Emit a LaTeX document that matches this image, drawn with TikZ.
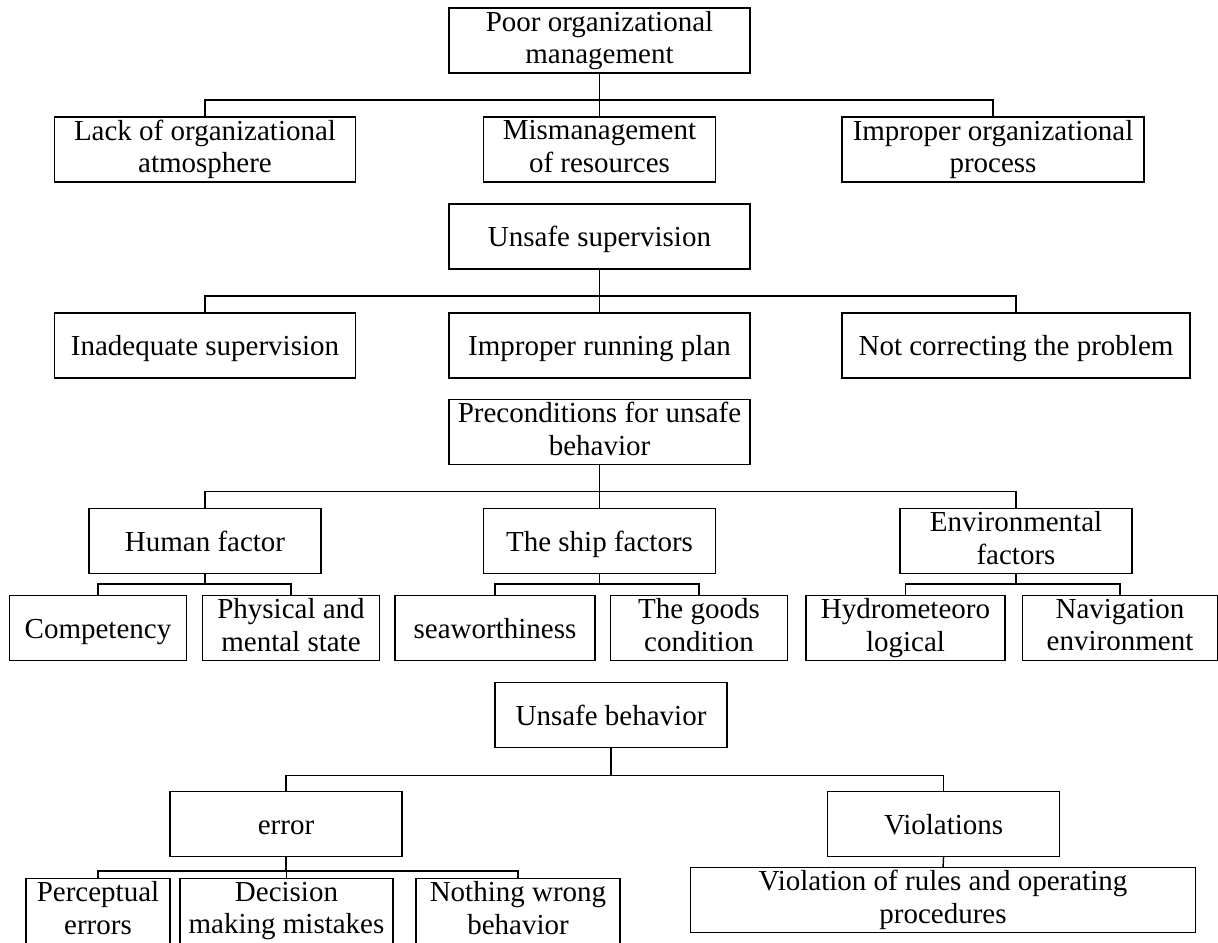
\documentclass[tikz,border=0pt]{standalone}
\usepackage{fontspec}
\setmainfont{Liberation Serif}
\usepackage{tikz}
\usetikzlibrary{positioning}
\newcommand{\blkstrut}{\vrule width 0pt height 13.2pt depth 3pt}
\tikzset{
   hfacs/.style={
      x=.5pt, y=.5pt,
      line width=.7pt,
      tree/.style={line width=.7pt}},
   blk/.style={%box with a fixed width, text broken by hand
      draw, align=center, inner xsep=1pt, inner ysep=0pt, outer sep=0pt,
      minimum height=32.5pt, minimum width=#1,
      font=\fontsize{14.5pt}{16.3pt}\selectfont,
      execute at begin node=\blkstrut, execute at end node=\blkstrut},
   blk/.default=116pt
}
\begin{document}
\begin{tikzpicture}[hfacs]
  \useasboundingbox (0,0) rectangle (1218,942);
  % organisation level
  \node[blk=150.5pt] (pom) at (599.5,901.5) {Poor organizational\\management};
  \node[blk=150.5pt] (lack) at (205,792.5) {Lack of organizational\\atmosphere};
  \node[blk] (mis) at (599.5,792.5) {Mismanagement\\of resources};
  \node[blk=151pt] (ipro) at (993,792.5) {Improper organizational\\process};
  % supervision level
  \node[blk=150.5pt] (usup) at (599.5,705.5) {Unsafe supervision};
  \node[blk=150.5pt] (inad) at (205,596.5) {Inadequate supervision};
  \node[blk=150.5pt] (irun) at (599.5,596.5) {Improper running plan};
  \node[blk=174pt] (notc) at (1016,596.5) {Not correcting the problem};
  % preconditions level
  \node[blk=150.5pt] (prec) at (599.5,510) {Preconditions for unsafe\\behavior};
  \node[blk] (hum) at (205,401) {Human factor};
  \node[blk] (ship) at (599.5,401) {The ship factors};
  \node[blk] (env) at (1016,401) {Environmental\\factors};
  \node[blk=88.5pt] (comp) at (98,314) {Competency};
  \node[blk=88.5pt] (phys) at (291,314) {Physical and\\mental state};
  \node[blk=100pt] (sea) at (495,314) {seaworthiness};
  \node[blk=88.5pt] (goods) at (699,314) {The goods\\condition};
  \node[blk=99.5pt] (hydro) at (905.5,314) {Hydrometeoro\\logical};
  \node[blk=97.5pt] (nav) at (1120,314) {Navigation\\environment};
  % acts level
  \node[blk] (ubeh) at (611,227) {Unsafe behavior};
  \node[blk] (err) at (286,118) {error};
  \node[blk] (viol) at (943.6,118) {Violations};
  \node[blk=72pt] (perc) at (98,31) {Perceptual\\errors};
  \node[blk=106.5pt] (dec) at (286.5,31) {Decision\\making mistakes};
  \node[blk=102pt] (noth) at (518,31) {Nothing wrong\\behavior};
  \node[blk=252.5pt] (vrul) at (943,42) {Violation of rules and operating\\procedures};
  \begin{scope}[tree]
  \foreach \c in {lack,mis,ipro} \draw (pom.south) -- ++(0,-27) -| (\c.north);
  \foreach \c in {inad,irun,notc} \draw (usup.south) -- ++(0,-27) -| (\c.north);
  \foreach \c in {hum,ship,env} \draw (prec.south) -- ++(0,-27) -| (\c.north);
  \foreach \c in {comp,phys} \draw (hum.south) -- ++(0,-10.5) -| (\c.north);
  \foreach \c in {sea,goods} \draw (ship.south) -- ++(0,-10.5) -| (\c.north);
  \foreach \c in {hydro,nav} \draw (env.south) -- ++(0,-10.5) -| (\c.north);
  \foreach \c in {err,viol} \draw (ubeh.south) -- ++(0,-27.7) -| (\c.north);
  \foreach \c in {perc,dec,noth} \draw (err.south) -- ++(0,-14.5) -| (\c.north);
  \draw (viol.south) -- (vrul.north);
  \end{scope}
\end{tikzpicture}
\end{document}
